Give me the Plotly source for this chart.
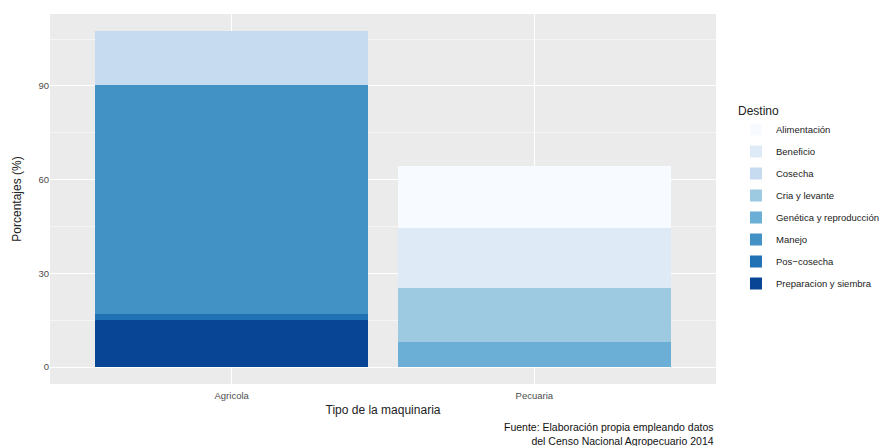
import plotly.graph_objects as go

categories = ["Agricola", "Pecuaria"]
destinos = ["Alimentación", "Beneficio", "Cosecha", "Cria y levante",
            "Genética y reproducción", "Manejo", "Pos−cosecha", "Preparacion y siembra"]
agricola = [0, 0, 17.3, 0, 0, 73.4, 1.9, 15.0]
pecuaria = [20.1, 19.2, 0, 17.2, 8.0, 0, 0, 0]
colors = ["#F7FBFF", "#DEEBF7", "#C6DBEF", "#9ECAE1", "#6BAED6", "#4292C6", "#2171B5", "#084594"]
y_ticks = [0, 30, 60, 90]

fig = go.Figure()
for i in reversed(range(len(destinos))):
    fig.add_trace(go.Bar(
        x=categories, y=[agricola[i], pecuaria[i]], name=destinos[i],
        legendgroup=destinos[i], legendrank=i + 1,
        marker=dict(color=colors[i], line=dict(width=0)), width=0.9,
    ))

fig.update_layout(
    barmode="stack",
    width=882, height=438,
    margin=dict(l=42, r=172, t=6, b=62),
    paper_bgcolor="white", plot_bgcolor="#EBEBEB",
    font=dict(family="Liberation Sans, Arial, sans-serif", color="#4D4D4D"),
    legend=dict(
        title=dict(text="Destino", font=dict(size=12, color="#222")),
        traceorder="grouped", font=dict(size=9.5, color="#222"),
        x=1.03, xanchor="left", y=0.5, yanchor="middle",
        tracegroupgap=3, itemwidth=30,
    ),
    xaxis=dict(
        range=[-0.6, 1.6], showgrid=True, gridcolor="white", gridwidth=1.2,
        tickfont=dict(size=9.5, color="#4D4D4D"), ticks="", ticklabelstandoff=4,
        title=dict(text="Tipo de la maquinaria", font=dict(size=12, color="#222"), standoff=6),
        zeroline=False, automargin=False,
    ),
    yaxis=dict(
        range=[-5.4, 113], tickvals=y_ticks, showgrid=True, gridcolor="white", gridwidth=1.2,
        minor=dict(tickvals=[15, 45, 75, 105], showgrid=True, gridcolor="#F5F5F5", gridwidth=0.6),
        tickfont=dict(size=9.5, color="#4D4D4D"), ticks="",
        title=dict(text="Porcentajes (%)", font=dict(size=12, color="#222"), standoff=14),
        zeroline=False, automargin=False,
    ),
    annotations=[dict(
        text="Fuente: Elaboración propia empleando datos<br>del Censo Nacional Agropecuario 2014",
        xref="paper", yref="paper", x=1.0, y=-0.095, xanchor="right", yanchor="top",
        align="right", showarrow=False, font=dict(size=10.5, color="#111"),
    )],
)
fig.write_html("out.html")
